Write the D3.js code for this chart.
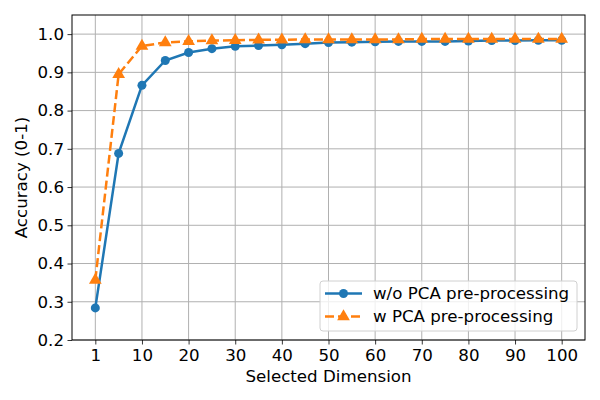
<!DOCTYPE html>
<html>
<head>
<meta charset="utf-8">
<script src="https://cdn.jsdelivr.net/npm/d3@7"></script>
<style>
  body { margin: 0; background: #fff; }
  text { font-family: "DejaVu Sans", sans-serif; }
</style>
</head>
<body>
<div id="chart"></div>
<script>
const width = 600;
const height = 400;
const margin = { top: 15, right: 15, bottom: 60, left: 72 };
const fontSize = "16.67px";

// Data
const dims = [1, 5, 10, 15, 20, 25, 30, 35, 40, 45, 50, 55, 60, 65, 70, 75, 80, 85, 90, 95, 100];
const withoutPCA = [0.284, 0.688, 0.866, 0.931, 0.952, 0.962, 0.968, 0.970, 0.972, 0.975, 0.978, 0.979, 0.980, 0.981, 0.981, 0.981, 0.982, 0.983, 0.983, 0.984, 0.984];
const withPCA = [0.357, 0.895, 0.969, 0.978, 0.981, 0.983, 0.984, 0.985, 0.985, 0.986, 0.986, 0.986, 0.986, 0.986, 0.987, 0.987, 0.987, 0.987, 0.987, 0.987, 0.987];
const xTicks = [1, 10, 20, 30, 40, 50, 60, 70, 80, 90, 100];
const yTicks = [0.2, 0.3, 0.4, 0.5, 0.6, 0.7, 0.8, 0.9, 1.0];
const seriesNames = ["w/o PCA pre-processing", "w PCA pre-processing"];

const blue = "#1f77b4";
const orange = "#ff7f0e";

const svg = d3.select("#chart")
  .append("svg")
  .attr("width", width)
  .attr("height", height);

// Scales: points are placed by index, like categorical positions
const x = d3.scaleLinear()
  .domain([-1, dims.length])
  .range([margin.left, width - margin.right]);

const y = d3.scaleLinear()
  .domain([0.2, 1.05])
  .range([height - margin.bottom, margin.top]);

const plotW = width - margin.left - margin.right;
const plotH = height - margin.top - margin.bottom;

// Grid
const grid = svg.append("g").attr("stroke", "#b0b0b0").attr("stroke-width", 1);
xTicks.forEach(t => {
  const xi = x(dims.indexOf(t));
  grid.append("line")
    .attr("x1", xi).attr("x2", xi)
    .attr("y1", margin.top).attr("y2", height - margin.bottom);
});
yTicks.forEach(t => {
  grid.append("line")
    .attr("x1", margin.left).attr("x2", width - margin.right)
    .attr("y1", y(t)).attr("y2", y(t));
});

// Axes
const xAxis = svg.append("g")
  .attr("transform", `translate(0, ${height - margin.bottom})`)
  .call(d3.axisBottom(x)
    .tickValues(xTicks.map(t => dims.indexOf(t)))
    .tickFormat(i => dims[i])
    .tickSize(4.5)
    .tickSizeOuter(0));

const yAxis = svg.append("g")
  .attr("transform", `translate(${margin.left}, 0)`)
  .call(d3.axisLeft(y)
    .tickValues(yTicks)
    .tickFormat(d3.format(".1f"))
    .tickSize(4.5)
    .tickSizeOuter(0));

[xAxis, yAxis].forEach(ax => {
  ax.select(".domain").remove();
  ax.selectAll(".tick line").attr("stroke", "#000").attr("stroke-width", 0.8);
  ax.selectAll(".tick text")
    .attr("fill", "#000")
    .style("font-size", fontSize)
    .style("font-family", "DejaVu Sans, sans-serif");
});
xAxis.selectAll(".tick text").attr("dy", "0.8em").attr("y", 8);
yAxis.selectAll(".tick text").attr("x", -8);

// Frame
svg.append("rect")
  .attr("x", margin.left).attr("y", margin.top)
  .attr("width", plotW).attr("height", plotH)
  .attr("fill", "none").attr("stroke", "#000").attr("stroke-width", 1);

// Lines
const line = d3.line()
  .x((d, i) => x(i))
  .y(d => y(d));

svg.append("path")
  .datum(withoutPCA)
  .attr("fill", "none")
  .attr("stroke", blue)
  .attr("stroke-width", 2.5)
  .attr("d", line);

svg.append("g")
  .selectAll("circle")
  .data(withoutPCA)
  .join("circle")
  .attr("cx", (d, i) => x(i))
  .attr("cy", d => y(d))
  .attr("r", 4.5)
  .attr("fill", blue);

svg.append("path")
  .datum(withPCA)
  .attr("fill", "none")
  .attr("stroke", orange)
  .attr("stroke-width", 2.5)
  .attr("stroke-dasharray", "9,4")
  .attr("d", line);

const tri = d3.symbol().type(d3.symbolTriangle).size(70);
svg.append("g")
  .selectAll("path")
  .data(withPCA)
  .join("path")
  .attr("transform", (d, i) => `translate(${x(i)}, ${y(d)})`)
  .attr("d", tri)
  .attr("fill", orange);

// Axis labels
svg.append("text")
  .attr("x", margin.left + plotW / 2)
  .attr("y", 382)
  .attr("text-anchor", "middle")
  .style("font-size", fontSize)
  .text("Selected Dimension");

svg.append("text")
  .attr("transform", `translate(27, ${margin.top + plotH / 2}) rotate(-90)`)
  .attr("text-anchor", "middle")
  .style("font-size", fontSize)
  .text("Accuracy (0-1)");

// Legend
const legend = svg.append("g");
legend.append("rect")
  .attr("x", 320).attr("y", 281)
  .attr("width", 257).attr("height", 50)
  .attr("rx", 3)
  .attr("fill", "#fff").attr("fill-opacity", 0.8)
  .attr("stroke", "#d0d0d0");

seriesNames.forEach((name, i) => {
  const ly = 293.5 + i * 23;
  const col = i === 0 ? blue : orange;
  legend.append("line")
    .attr("x1", 325).attr("x2", 362)
    .attr("y1", ly).attr("y2", ly)
    .attr("stroke", col).attr("stroke-width", 2.5)
    .attr("stroke-dasharray", i === 0 ? null : "9,4");
  if (i === 0) {
    legend.append("circle").attr("cx", 343.5).attr("cy", ly).attr("r", 4.5).attr("fill", col);
  } else {
    legend.append("path").attr("transform", `translate(343.5, ${ly})`).attr("d", tri).attr("fill", col);
  }
  legend.append("text")
    .attr("x", 373).attr("y", ly)
    .attr("dy", "0.35em")
    .style("font-size", fontSize)
    .text(name);
});
</script>
</body>
</html>
